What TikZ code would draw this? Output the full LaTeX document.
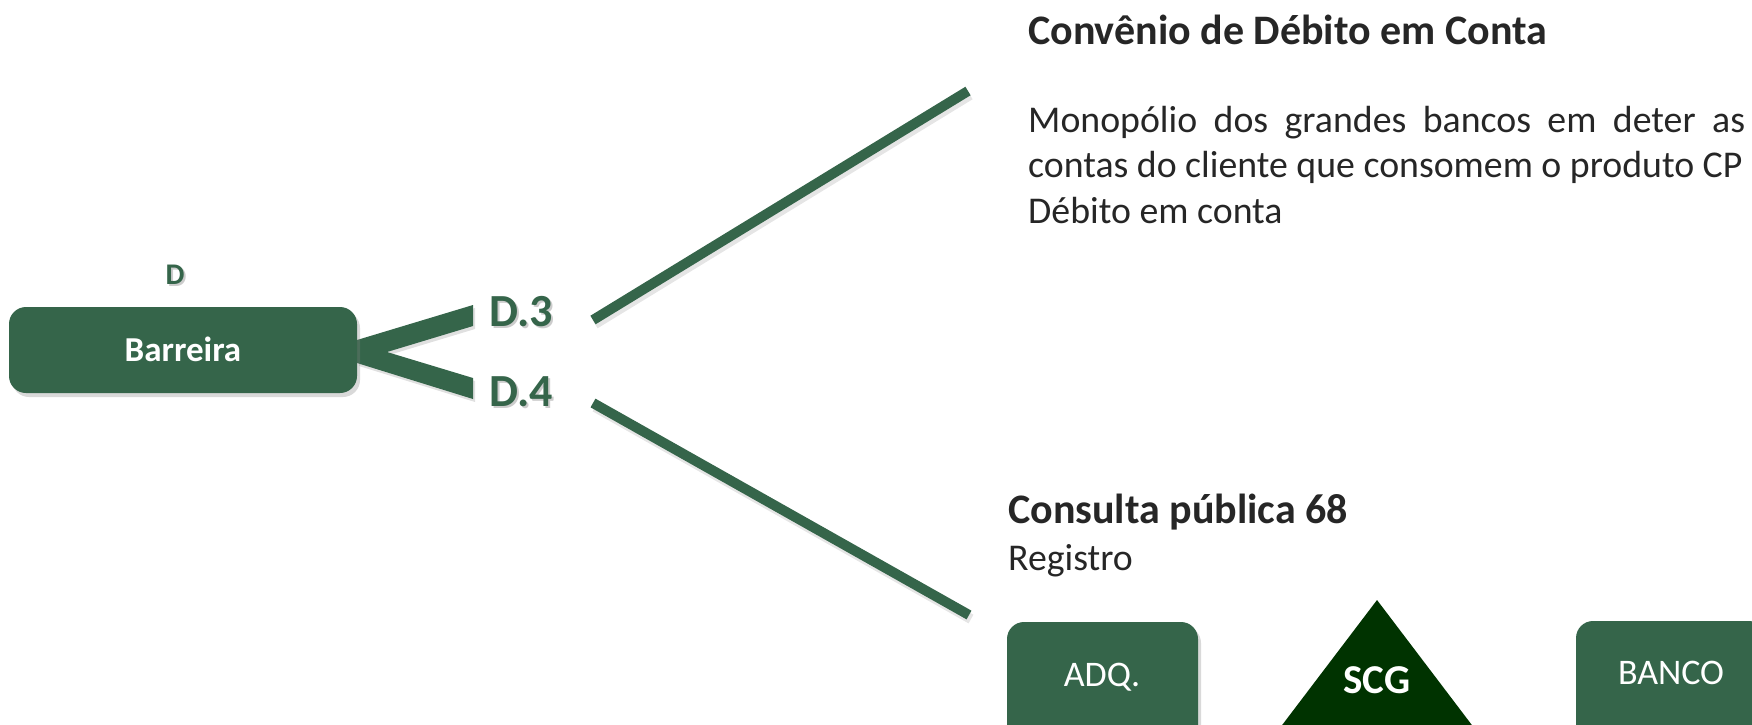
\documentclass[tikz,border=0pt]{standalone}
\usepackage{fontspec}
\setmainfont{Carlito}
\usetikzlibrary{shadows}
\definecolor{gr}{HTML}{35654A}
\definecolor{dg}{HTML}{003300}
\definecolor{tx}{HTML}{262626}
\newcommand\fsz[1]{\fontsize{#1}{#1}\selectfont}
\tikzset{
  boxsh/.style={drop shadow={opacity=0.3, shadow xshift=3pt, shadow yshift=-4pt}},
  gbox/.style={fill=gr, rounded corners=17pt, boxsh},
  linkline/.style={draw=gr, line width=10pt, line cap=butt},
  linksh/.style={draw=black, opacity=0.10, line width=10pt, line cap=butt},
  lbl/.style={inner sep=0pt, anchor=base},
  dlabel/.style={lbl, text=gr, font=\fsz{46}\bfseries},
  dshadow/.style={lbl, text=black, opacity=0.2, font=\fsz{46}\bfseries},
  ttl/.style={inner sep=0pt, anchor=base west, text=tx, font=\fsz{42}\bfseries},
  body/.style={inner sep=0pt, anchor=base west, text=tx, font=\fsz{37.8}},
  wtxt/.style={lbl, text=white},
}
\begin{document}
\begin{tikzpicture}[x=1pt,y=-1pt]
\useasboundingbox (0,0) rectangle (1752,724);
\clip (0,0) rectangle (1752,724);

% fork connector from Barreira to D.3 / D.4
\coordinate (f1) at (357,340);
\coordinate (f2) at (357,363);
\fill[black, opacity=0.12] (359,343) -- (475,308) -- (475,329) -- (389,355) -- (475,381) -- (475,402) -- (359,366) -- cycle;
\fill[gr] (f1) -- (473,305) -- (473,326) -- (387,352) -- (473,378) -- (473,399) -- (f2) -- cycle;

% Barreira box
\fill[gbox] (9,307) rectangle (357,393);
\node[wtxt, font=\fsz{35}\bfseries] (barreira) at (183,361) {Barreira};
\node[dshadow, font=\fsz{30}\bfseries] at (177,286) {D};
\node[dlabel, font=\fsz{30}\bfseries] (dtop) at (175,284) {D};

% D.3 and D.4
\node[dshadow] at (523,328) {D.3};
\node[dlabel] (d3) at (521,326) {D.3};
\node[dshadow] at (523,408) {D.4};
\node[dlabel] (d4) at (521,406) {D.4};

% long connectors
\coordinate (u1) at (593,320);
\coordinate (u2) at (968,91);
\coordinate (l1) at (593,403);
\coordinate (l2) at (969,615);
\draw[linksh] ([shift={(2,4)}]u1) -- ([shift={(2,4)}]u2);
\draw[linksh] ([shift={(2,4)}]l1) -- ([shift={(2,4)}]l2);
\draw[linkline] (u1) -- (u2);
\draw[linkline] (l1) -- (l2);

% upper text block
\node[ttl] (conv) at (1028,44) {Convênio de Débito em Conta};
\node[body] (b1) at (1028,132) {\hbox to 717pt{Monopólio\hfill dos\hfill grandes\hfill bancos\hfill em\hfill deter\hfill as}};
\node[body] (b2) at (1028,177) {contas do cliente que consomem o produto CP};
\node[body] (b3) at (1028,223) {Débito em conta};

% lower text block
\node[ttl] (cp68) at (1008,523) {Consulta pública 68};
\node[body] (reg) at (1008,570) {Registro};

% bottom shapes
\fill[gbox] (1007,622) rectangle (1198,770);
\node[wtxt, font=\fsz{36}] (adq) at (1102,686) {ADQ.};
\fill[dg] (1377,600) -- (1506,770) -- (1248,770) -- cycle;
\node[wtxt, font=\fsz{41}\bfseries] (scg) at (1377,693) {SCG};
\fill[gbox] (1576,621) rectangle (1766,770);
\node[wtxt, font=\fsz{36}] (banco) at (1671,684) {BANCO};
\end{tikzpicture}
\end{document}
